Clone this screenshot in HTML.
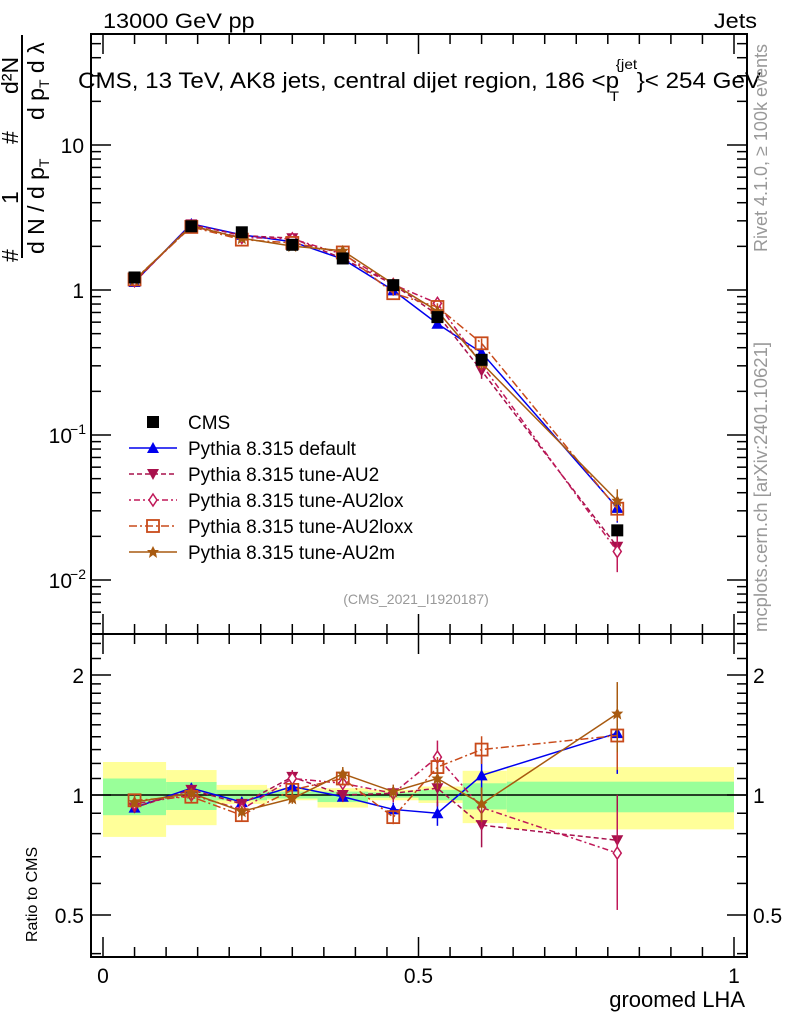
<!DOCTYPE html>
<html><head><meta charset="utf-8"><style>
body{margin:0;background:#fff}
svg{display:block;font-family:"Liberation Sans",sans-serif}
</style></head><body>
<svg id="c" width="786" height="1024" viewBox="0 0 786 1024" xmlns="http://www.w3.org/2000/svg">
<g id="bands"></g>
<g id="axes"></g>
<g id="series"></g>
<g>
<g transform="translate(103,0) scale(1.12,1) translate(-103,0)"><text x="103" y="28" font-size="21">13000 GeV pp</text></g>
<g transform="translate(757,0) scale(1.12,1) translate(-757,0)"><text x="757" y="28" font-size="21" text-anchor="end">Jets</text></g>
<g transform="translate(78,0) scale(1.1,1) translate(-78,0)">
<text x="78" y="88" font-size="22">CMS, 13 TeV, AK8 jets, central dijet region, 186 &lt;p<tspan font-size="14" dy="-19" dx="-3">{jet</tspan><tspan font-size="14" dy="32" dx="-25">T</tspan><tspan dy="-13" dx="16">}&lt; 254 GeV</tspan></text>
</g>
<text x="416" y="604" font-size="14" fill="#999" text-anchor="middle">(CMS_2021_I1920187)</text>
<text transform="translate(767,252) rotate(-90)" font-size="18" fill="#999">Rivet 4.1.0, ≥ 100k events</text>
<text transform="translate(767,632) rotate(-90)" font-size="18.5" fill="#999">mcplots.cern.ch [arXiv:2401.10621]</text>
<text x="745" y="1007" font-size="22" text-anchor="end">groomed LHA</text>
<text transform="translate(37,942) rotate(-90)" font-size="16">Ratio to CMS</text>
<g font-size="23">
<line x1="22" y1="35" x2="22" y2="258" stroke="#000" stroke-width="2"/>
<text transform="translate(22,262) rotate(-90)" y="-4">#</text>
<text transform="translate(22,204) rotate(-90)" y="-4">1</text>
<text transform="translate(22,144) rotate(-90)" y="-4">#</text>
<text transform="translate(22,94) rotate(-90)" y="-4">d²N</text>
<text transform="translate(22,254) rotate(-90)" y="22">d N / d p<tspan font-size="14" dy="5">T</tspan></text>
<text transform="translate(22,120) rotate(-90)" y="22">d p<tspan font-size="14" dy="5">T</tspan><tspan dy="-5"> d λ</tspan></text>
</g>
</g>
<g id="legend"></g>
</svg>
<script>
const xCenters=[0.05,0.14,0.22,0.30,0.38,0.46,0.53,0.60,0.815];
const binEdges=[0,0.1,0.18,0.26,0.34,0.42,0.5,0.57,0.64,1.0];
const cmsValues=[1.22,2.75,2.5,2.05,1.65,1.08,0.65,0.33,0.022];
const yellowUp=[1.21,1.155,1.06,1.04,1.04,1.03,1.05,1.15,1.175];
const yellowDn=[0.785,0.84,0.95,0.97,0.93,0.97,0.955,0.85,0.82];
const greenUp=[1.10,1.078,1.03,1.02,1.02,1.015,1.03,1.07,1.08];
const greenDn=[0.89,0.917,0.97,0.98,0.96,0.985,0.97,0.92,0.905];
const ratioDefault=[0.93,1.04,0.96,1.05,0.99,0.92,0.90,1.12,1.43];
const ratioAU2=[0.93,1.03,0.95,1.11,1.0,1.01,1.04,0.84,0.77];
const ratioAU2lox=[0.95,1.0,0.92,1.10,1.07,1.01,1.245,0.93,0.715];
const ratioAU2loxx=[0.97,0.99,0.89,1.03,1.10,0.88,1.175,1.30,1.41];
const ratioAU2m=[0.96,1.01,0.91,0.98,1.13,1.02,1.10,0.95,1.6];
const errDefault=[0.03,0.03,0.03,0.03,0.03,0.04,0.07,0.12,0.21];
const errAU2=[0.03,0.03,0.03,0.04,0.04,0.05,0.1,0.12,0.3];
const errAU2lox=[0.03,0.03,0.03,0.04,0.04,0.05,0.1,0.12,0.28];
const errAU2loxx=[0.03,0.03,0.03,0.03,0.04,0.04,0.06,0.08,0.18];
const errAU2m=[0.03,0.03,0.03,0.03,0.04,0.04,0.06,0.1,0.2];
const NS="http://www.w3.org/2000/svg";
const X0=91,X1=747,T=34,MB=634,RB=957;
const xp=v=>103+631*v;
const ym=v=>290-145*Math.log10(v);
const yr=v=>795-120*Math.log2(v);
function mk(tag,attrs,parent){const e=document.createElementNS(NS,tag);for(const k in attrs)e.setAttribute(k,attrs[k]);parent.appendChild(e);return e;}
const bands=document.getElementById('bands'),axes=document.getElementById('axes'),ser=document.getElementById('series'),leg=document.getElementById('legend');
for(let i=0;i<cmsValues.length;i++){
 const a=xp(binEdges[i]),b=Math.min(xp(binEdges[i+1]),X1);
 const y1=mk('rect',{x:a,y:yr(yellowUp[i]),width:b-a,height:yr(yellowDn[i])-yr(yellowUp[i]),fill:'#ffff99'},bands);
 
 
 const g1=mk('rect',{x:a,y:yr(greenUp[i]),width:b-a,height:yr(greenDn[i])-yr(greenUp[i]),fill:'#99ff99'},bands);
 
 
}
mk('line',{x1:X0,x2:X1,y1:yr(1),y2:yr(1),stroke:'#000','stroke-width':1.5},axes);
mk('rect',{x:X0,y:T,width:X1-X0,height:MB-T,fill:'none',stroke:'#000','stroke-width':2},axes);
mk('rect',{x:X0,y:MB,width:X1-X0,height:RB-MB,fill:'none',stroke:'#000','stroke-width':2},axes);
for(let k=0;k<=20;k++){const v=k*0.05,x=xp(v),L=(k%10==0)?20:10;
 [[T,1],[MB,-1],[MB,1],[RB,-1]].forEach(([y,d])=>mk('line',{x1:x,x2:x,y1:y,y2:y+d*L,stroke:'#000','stroke-width':1.5},axes));}
const xTickLabels=['0','0.5','1'];
xTickLabels.forEach(t=>{const e=mk('text',{x:xp(+t),y:983,'font-size':21,'text-anchor':'middle'},axes);e.textContent=t;
 
 });
for(let d=-3;d<=1;d++)for(let m=1;m<=9;m++){const v=m*Math.pow(10,d),y=ym(v);if(y<T||y>MB)continue;const L=m==1?20:10;
 mk('line',{x1:X0,x2:X0+L,y1:y,y2:y,stroke:'#000','stroke-width':1.5},axes);
 mk('line',{x1:X1,x2:X1-L,y1:y,y2:y,stroke:'#000','stroke-width':1.5},axes);}
const mainTickLabels=[['10',10],['1',1]];
mainTickLabels.forEach(([t,v])=>{const e=mk('text',{x:84,y:ym(v)+8,'font-size':21,'text-anchor':'end'},axes);e.textContent=t;
 
 });
[['10',0.1,'−1'],['10',0.01,'−2']].forEach(([t,v,s])=>{const e=mk('text',{x:72,y:ym(v)+8,'font-size':21,'text-anchor':'end'},axes);e.textContent=t;
 
 
 const sp=mk('tspan',{'font-size':14,dy:-9,x:86,'text-anchor':'end'},e);sp.textContent=s;});
const ratioTicks=[0.4,0.5,0.6,0.7,0.8,0.9,1,1.1,1.2,1.3,1.4,1.5,1.6,1.7,1.8,1.9,2,2.2,2.4];
ratioTicks.forEach(v=>{const y=yr(v);if(y<MB||y>RB)return;const L=(v==0.5||v==1||v==2)?20:10;
 mk('line',{x1:X0,x2:X0+L,y1:y,y2:y,stroke:'#000','stroke-width':1.5},axes);
 mk('line',{x1:X1,x2:X1-L,y1:y,y2:y,stroke:'#000','stroke-width':1.5},axes);});
const ratioTickLabels=['0.5','1','2'];
ratioTickLabels.forEach(t=>{[[84,'end'],[753,'start']].forEach(([x,a])=>{const e=mk('text',{x:x,y:yr(+t)+8,'font-size':21,'text-anchor':a},axes);e.textContent=t;
 
 });});
function marker(type,x,y,col,g){
 if(type=='sq')mk('rect',{x:x-6,y:y-6,width:12,height:12,fill:'#000'},g);
 else if(type=='tri')mk('polygon',{points:`${x-6},${y+5} ${x+6},${y+5} ${x},${y-6}`,fill:col},g);
 else if(type=='tdn')mk('polygon',{points:`${x-6},${y-5} ${x+6},${y-5} ${x},${y+6}`,fill:col},g);
 else if(type=='dia')mk('polygon',{points:`${x},${y-6} ${x+4},${y} ${x},${y+6} ${x-4},${y}`,fill:'#fff',stroke:col,'stroke-width':1.5},g);
 else if(type=='osq')mk('rect',{x:x-6,y:y-6,width:12,height:12,fill:'none',stroke:col,'stroke-width':1.8},g);
 else if(type=='star')mk('polygon',{points:`${x},${y-6} ${x+2},${y-2} ${x+6},${y-2} ${x+3},${y+1} ${x+4},${y+6} ${x},${y+3} ${x-4},${y+6} ${x-3},${y+1} ${x-6},${y-2} ${x-2},${y-2}`,fill:col},g);
}
const series=[
 {name:'Pythia 8.315 default',r:ratioDefault,e:errDefault,col:'#0000ee',dash:'',m:'tri',id:'default'},
 {name:'Pythia 8.315 tune-AU2',r:ratioAU2,e:errAU2,col:'#a8104c',dash:'5,3',m:'tdn',id:'au2'},
 {name:'Pythia 8.315 tune-AU2lox',r:ratioAU2lox,e:errAU2lox,col:'#c01858',dash:'2,3,6,3',m:'dia',id:'au2lox'},
 {name:'Pythia 8.315 tune-AU2loxx',r:ratioAU2loxx,e:errAU2loxx,col:'#c84a1a',dash:'8,3,2,3',m:'osq',id:'au2loxx'},
 {name:'Pythia 8.315 tune-AU2m',r:ratioAU2m,e:errAU2m,col:'#a85a10',dash:'',m:'star',id:'au2m'}];
series.forEach(s=>{
 const g=mk('g',{},ser);
 
 
 const vals=s.r.map((r,i)=>r*cmsValues[i]);
 mk('polyline',{points:vals.map((v,i)=>xp(xCenters[i])+','+ym(v)).join(' '),fill:'none',stroke:s.col,'stroke-width':1.5,'stroke-dasharray':s.dash},g);
 mk('polyline',{points:s.r.map((v,i)=>xp(xCenters[i])+','+yr(v)).join(' '),fill:'none',stroke:s.col,'stroke-width':1.5,'stroke-dasharray':s.dash},g);
 vals.forEach((v,i)=>{const x=xp(xCenters[i]);
  mk('line',{x1:x,x2:x,y1:ym(v*(1+s.e[i])),y2:ym(v*(1-s.e[i])),stroke:s.col,'stroke-width':1.5},g);
  mk('line',{x1:x,x2:x,y1:yr(s.r[i]*(1+s.e[i])),y2:yr(s.r[i]*(1-s.e[i])),stroke:s.col,'stroke-width':1.5},g);
  marker(s.m,x,ym(v),s.col,g);marker(s.m,x,yr(s.r[i]),s.col,g);});
});
const cg=mk('g',{},ser);


cmsValues.forEach((v,i)=>marker('sq',xp(xCenters[i]),ym(v),'#000',cg));
const legRows=[{name:'CMS',m:'sq',col:'#000',dash:null}].concat(series.map(s=>({name:s.name,m:s.m,col:s.col,dash:s.dash})));
legRows.forEach((r,i)=>{const y=422+26*i;const g=mk('g',{},leg);
 
 
 if(r.dash!==null)mk('line',{x1:129,x2:177,y1:y,y2:y,stroke:r.col,'stroke-width':1.5,'stroke-dasharray':r.dash},g);
 marker(r.m,153,y,r.col,g);
 const t=mk('text',{x:188,y:y+7,'font-size':19},g);t.textContent=r.name;});
</script>
</body></html>
